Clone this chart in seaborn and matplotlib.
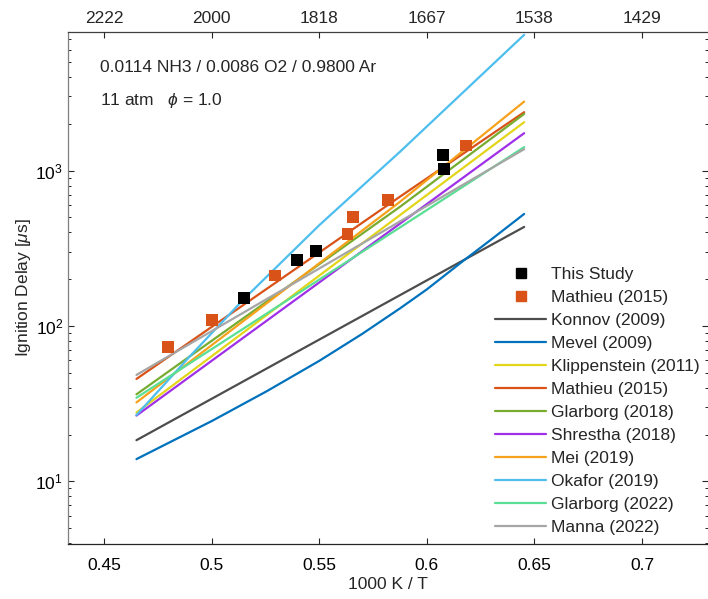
import numpy as np
import pandas as pd
import matplotlib
matplotlib.use("Agg")
import matplotlib.pyplot as plt
from matplotlib.lines import Line2D
import seaborn as sns

# ---------------- data ----------------
study_x = [0.5152, 0.5395, 0.5485, 0.6074, 0.6080]
study_y = [152, 266, 305, 1257, 1025]

mathieu_x = [0.4799, 0.5003, 0.5293, 0.5631, 0.5658, 0.5818, 0.6182]
mathieu_y = [73.6, 109, 211, 389, 501, 648, 1449]

konnov_x = [0.4651, 0.6185, 0.6452]
konnov_y = [18.4, 272, 434]
mevel_x = [0.4651, 0.50, 0.5256, 0.55, 0.57, 0.5876, 0.60, 0.6185, 0.63, 0.6452]
mevel_y = [13.9, 24.4, 38, 59.6, 89, 130, 172, 273, 361, 526]
klipp_x = [0.4651, 0.5876, 0.6452]
klipp_y = [27.7, 518, 2049]
mathieu_m_x = [0.4651, 0.5876, 0.6452]
mathieu_m_y = [45.6, 681, 2377]
glar18_x = [0.4651, 0.5876, 0.6452]
glar18_y = [36.3, 586, 2318]
shrestha_x = [0.4651, 0.6452]
shrestha_y = [26.5, 1741]
mei_x = [0.4651, 0.5876, 0.6452]
mei_y = [32.2, 631, 2780]
okafor_x = [0.4651, 0.4900, 0.5152, 0.5500, 0.5876, 0.6452]
okafor_y = [26.7, 64, 150, 445, 1325, 7480]
glar22_x = [0.4651, 0.6452]
glar22_y = [34.5, 1416]
manna_x = [0.4651, 0.6452]
manna_y = [48.4, 1374]

models = ["Konnov (2009)", "Mevel (2009)", "Klippenstein (2011)", "Mathieu (2015)",
          "Glarborg (2018)", "Shrestha (2018)", "Mei (2019)", "Okafor (2019)",
          "Glarborg (2022)", "Manna (2022)"]
model_xy = [(konnov_x, konnov_y), (mevel_x, mevel_y), (klipp_x, klipp_y),
            (mathieu_m_x, mathieu_m_y), (glar18_x, glar18_y), (shrestha_x, shrestha_y),
            (mei_x, mei_y), (okafor_x, okafor_y), (glar22_x, glar22_y), (manna_x, manna_y)]
colors = ["#4D4D4D", "#0072BD", "#E3D51A", "#D95319", "#77AC30", "#A030E8",
          "#F7A21B", "#4DBEEE", "#5ADF95", "#A6A6A6"]

bottom_ticks = [0.45, 0.5, 0.55, 0.6, 0.65, 0.7]
bottom_labels = ["0.45", "0.5", "0.55", "0.6", "0.65", "0.7"]
top_labels = ["2222", "2000", "1818", "1667", "1538", "1429"]

# ---------------- style ----------------
sns.set_style("ticks")
plt.rcParams["font.family"] = ["Liberation Sans", "DejaVu Sans"]
plt.rcParams["mathtext.fontset"] = "custom"
plt.rcParams["mathtext.rm"] = "Liberation Sans"
plt.rcParams["mathtext.it"] = "Liberation Sans:italic"
FS = 12.5
plt.rcParams["font.size"] = FS

W, H = 708, 599
fig = plt.figure(figsize=(W / 100, H / 100), dpi=100)
L, R, T, B = 68, 708, 32, 544
ax = fig.add_axes([L / W, 1 - B / H, (R - L) / W, (B - T) / H])

rows = []
for name, (xs, ys) in zip(models, model_xy):
    for xv, yv in zip(xs, ys):
        rows.append({"x": xv, "y": yv, "model": name})
df = pd.DataFrame(rows)

sns.lineplot(data=df, x="x", y="y", hue="model", hue_order=models,
             palette=dict(zip(models, colors)), linewidth=1.6, sort=True,
             estimator=None, legend=False, ax=ax)

dpts = pd.DataFrame({"x": study_x + mathieu_x, "y": study_y + mathieu_y,
                     "src": ["This Study"] * len(study_x) + ["Mathieu (2015)"] * len(mathieu_x)})
sns.scatterplot(data=dpts, x="x", y="y", hue="src",
                palette={"This Study": "black", "Mathieu (2015)": "#D95319"},
                marker="s", s=72, linewidth=0, legend=False, ax=ax, zorder=5)

ax.set_yscale("log")
ax.set_xlim(0.4333, 0.7306)
ax.set_ylim(3.95, 7800)
ax.set_xticks(bottom_ticks)
ax.set_xticklabels(bottom_labels)
ax.set_xlabel("1000 K / T", fontsize=FS, labelpad=3)
ax.set_ylabel(r"Ignition Delay [$\mu$s]", fontsize=FS, labelpad=2)

ax.tick_params(axis="both", which="major", direction="in", length=4, width=0.8,
               labelsize=FS, colors="#262626", top=False, right=True)
ax.tick_params(axis="x", which="major", pad=10)
ax.tick_params(axis="y", which="minor", direction="in", length=2.2, width=0.7, right=True)
ax.tick_params(axis="x", which="minor", bottom=False, top=False)
ax.tick_params(axis="y", labelcolor="black")
ax.tick_params(axis="x", labelcolor="black")
ax.spines["right"].set_visible(False)
ax.spines["left"].set_color("#7F7F7F")
ax.spines["bottom"].set_color("#262626")
ax.spines["top"].set_color("#404040")
for s in ax.spines.values():
    s.set_linewidth(0.9)

ax2 = ax.twiny()
ax2.set_xlim(ax.get_xlim())
ax2.set_xticks(bottom_ticks)
ax2.set_xticklabels(top_labels)
ax2.tick_params(axis="x", direction="in", length=4, width=0.8, labelsize=FS, pad=4)
for s in ax2.spines.values():
    s.set_visible(False)

fig.text(100 / W, 1 - 68 / H, "0.0114 NH3 / 0.0086 O2 / 0.9800 Ar", fontsize=FS, va="center", ha="left")
fig.text(100 / W, 1 - 100 / H, r"11 atm   $\phi$ = 1.0", fontsize=FS, va="center", ha="left")

handles = [Line2D([], [], marker="s", linestyle="none", color="black", markersize=6.5),
           Line2D([], [], marker="s", linestyle="none", color="#D95319", markersize=6.5)]
labels = ["This Study", "Mathieu (2015)"]
for name, c in zip(models, colors):
    handles.append(Line2D([], [], color=c, linewidth=1.6))
    labels.append(name)
ax.legend(handles, labels, loc="upper left", bbox_to_anchor=(495 / W, 1 - 267 / H),
          bbox_transform=fig.transFigure, frameon=False, fontsize=FS,
          handlelength=2.95, handletextpad=0.3, labelspacing=0.45,
          borderpad=0, borderaxespad=0)

fig.savefig("out.png", dpi=100)
